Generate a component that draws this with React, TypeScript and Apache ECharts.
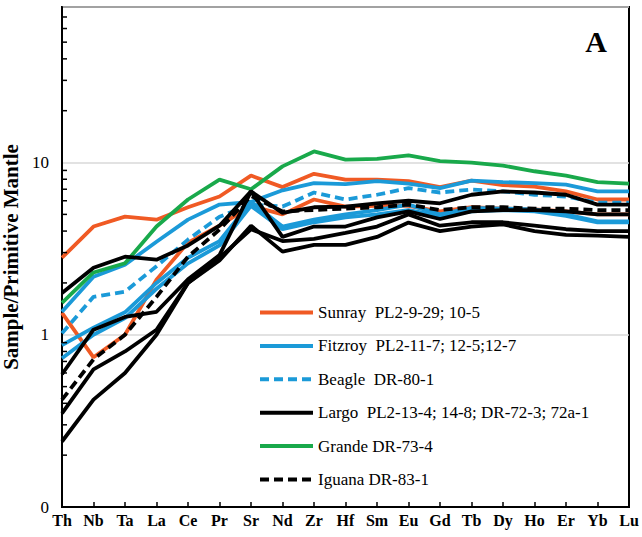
import { useEffect, useRef } from "react";
import * as echarts from "echarts";

// Trace elements, incompatible to compatible (primitive-mantle normalised)
const elements = ["Th", "Nb", "Ta", "La", "Ce", "Pr", "Sr", "Nd", "Zr", "Hf", "Sm", "Eu", "Gd", "Tb", "Dy", "Ho", "Er", "Yb", "Lu"];

// Sample groups (legend entries)
const SUNRAY = "Sunray  PL2-9-29; 10-5";
const FITZROY = "Fitzroy  PL2-11-7; 12-5;12-7";
const BEAGLE = "Beagle  DR-80-1";
const LARGO = "Largo  PL2-13-4; 14-8; DR-72-3; 72a-1";
const GRANDE = "Grande DR-73-4";
const IGUANA = "Iguana DR-83-1";

// Normalised concentrations per sample
const sunray1 = [2.8, 4.25, 4.85, 4.66, 5.5, 6.35, 8.4, 7.2, 8.6, 7.96, 7.96, 7.8, 7.2, 7.85, 7.4, 7.25, 6.8, 6.1, 6.1];
const sunray2 = [1.34, 0.74, 1.0, 2.09, 3.43, 4.3, 5.6, 5.0, 6.1, 5.55, 5.6, 5.6, 5.2, 5.5, 5.4, 5.35, 5.2, 5.0, 5.0];
const fitzroy1 = [1.36, 2.17, 2.55, 3.47, 4.66, 5.7, 5.9, 6.9, 7.6, 7.5, 7.8, 7.55, 7.1, 7.85, 7.7, 7.6, 7.45, 6.8, 6.8];
const fitzroy2 = [0.87, 1.1, 1.35, 2.0, 2.8, 3.5, 5.9, 4.25, 4.66, 5.0, 5.3, 5.7, 5.0, 5.45, 5.4, 5.35, 5.0, 4.55, 4.55];
const fitzroy3 = [0.73, 1.0, 1.25, 1.85, 2.6, 3.3, 5.6, 4.1, 4.5, 4.8, 5.0, 5.3, 4.9, 5.2, 5.3, 5.2, 4.9, 4.5, 4.5];
const beagle = [1.02, 1.66, 1.78, 2.5, 3.57, 4.85, 5.7, 5.55, 6.7, 6.1, 6.5, 7.1, 6.7, 6.97, 6.8, 6.5, 6.35, 5.85, 5.85];
const grande = [1.53, 2.3, 2.6, 4.25, 6.1, 7.96, 7.0, 9.5, 11.6, 10.4, 10.5, 11.0, 10.2, 10.0, 9.6, 8.9, 8.4, 7.7, 7.55];
const largo1 = [1.75, 2.45, 2.84, 2.73, 3.3, 4.3, 6.8, 5.1, 5.5, 5.55, 5.8, 6.0, 5.8, 6.5, 6.8, 6.7, 6.5, 5.7, 5.7];
const largo2 = [0.59, 1.07, 1.27, 1.36, 2.1, 2.9, 6.8, 3.7, 4.25, 4.25, 4.8, 5.2, 4.7, 5.2, 5.3, 5.3, 5.2, 5.0, 5.0];
const largo3 = [0.24, 0.42, 0.6, 1.0, 2.0, 2.7, 4.3, 3.04, 3.33, 3.33, 3.7, 4.48, 4.0, 4.25, 4.37, 4.0, 3.8, 3.76, 3.7];
const largo4 = [0.35, 0.63, 0.8, 1.07, 2.0, 2.8, 4.1, 3.5, 3.6, 3.9, 4.25, 5.0, 4.3, 4.5, 4.5, 4.3, 4.1, 4.0, 4.0];
const iguana = [0.42, 0.72, 1.0, 1.66, 2.84, 4.08, 6.4, 5.2, 5.3, 5.4, 5.5, 5.7, 5.3, 5.5, 5.5, 5.4, 5.4, 5.3, 5.3];

// Log-axis minor tick values
const minorTickValues = [0.2, 0.3, 0.4, 0.5, 0.6, 0.7, 0.8, 0.9, 2, 3, 4, 5, 6, 7, 8, 9, 20, 30, 40, 50, 60, 70];

const SERIF = "Liberation Serif";
const ORANGE = "#F05A24";
const BLUE = "#1B9AD8";
const GREEN = "#19A94B";
const BLACK = "#000000";

function line(name: string, data: number[], color: string, dashed = false, z = 2) {
  return {
    type: "line",
    name,
    data,
    symbol: "none",
    silent: true,
    z,
    lineStyle: { color, width: 3.8, type: dashed ? [9, 5] : "solid" },
    itemStyle: { color },
    emphasis: { disabled: true },
  };
}

export default function App() {
  const ref = useRef<HTMLDivElement>(null);

  useEffect(() => {
    const chart = echarts.init(ref.current!, null, { renderer: "svg" });

    const option = {
      animation: false,
      backgroundColor: "#ffffff",
      textStyle: { fontFamily: SERIF },
      title: {
        text: "A",
        right: 30,
        top: 21,
        textStyle: { fontFamily: SERIF, fontSize: 30, fontWeight: "bold", color: "#000" },
      },
      grid: {
        left: 62,
        right: 13,
        top: 7,
        bottom: 30,
        outerBoundsMode: "none",
        containLabel: false,
        show: true,
        borderColor: "#000",
        borderWidth: 2,
      },
      legend: {
        orient: "vertical",
        left: 253,
        top: 299,
        itemWidth: 53,
        itemHeight: 14,
        itemGap: 16.4,
        selectedMode: false,
        data: [SUNRAY, FITZROY, BEAGLE, LARGO, GRANDE, IGUANA],
        textStyle: { fontFamily: SERIF, fontSize: 17, color: "#000" },
        itemStyle: { color: "transparent", borderColor: "transparent", borderWidth: 0 },
        lineStyle: { width: 4 },
      },
      xAxis: {
        type: "category",
        data: elements,
        boundaryGap: false,
        axisLine: { lineStyle: { color: "#000", width: 2 } },
        axisTick: { inside: true, length: 5, lineStyle: { color: "#000", width: 1.5 } },
        axisLabel: {
          interval: 0,
          margin: 5,
          fontFamily: SERIF,
          fontSize: 16,
          fontWeight: "bold",
          color: "#000",
        },
        splitLine: { show: false },
      },
      yAxis: {
        type: "log",
        logBase: 10,
        min: 0.1,
        max: 80,
        name: "Sample/Primitive Mantle",
        nameLocation: "middle",
        nameGap: 32,
        nameTextStyle: { fontFamily: SERIF, fontSize: 21, fontWeight: "bold", color: "#000" },
        axisLine: { show: true, lineStyle: { color: "#000", width: 2 } },
        axisTick: { inside: true, length: 5, lineStyle: { color: "#000", width: 1.5 } },
        axisLabel: {
          margin: 13,
          fontFamily: SERIF,
          fontSize: 17,
          color: "#000",
          formatter: (v: number) => {
            if (Math.abs(v - 0.1) < 1e-6) return "0";
            if (Math.abs(v - 1) < 1e-6) return "1";
            if (Math.abs(v - 10) < 1e-6) return "10";
            return "";
          },
        },
        splitLine: { show: true, lineStyle: { color: "#d9d9d9", width: 1.5 } },
      },
      series: [
        {
          type: "custom",
          name: "minorTicks",
          silent: true,
          clip: false,
          z: 10,
          data: minorTickValues.map((v) => [0, v]),
          renderItem: (_params: any, api: any) => {
            const p = api.coord([api.value(0), api.value(1)]);
            return {
              type: "line",
              shape: { x1: p[0], y1: p[1], x2: p[0] + 5, y2: p[1] },
              style: { stroke: "#000", lineWidth: 1.5 },
            };
          },
        },
        line(SUNRAY, sunray1, ORANGE),
        line(SUNRAY, sunray2, ORANGE),
        line(FITZROY, fitzroy1, BLUE),
        line(FITZROY, fitzroy2, BLUE),
        line(FITZROY, fitzroy3, BLUE),
        line(BEAGLE, beagle, BLUE, true),
        line(GRANDE, grande, GREEN),
        line(LARGO, largo1, BLACK, false, 3),
        line(LARGO, largo2, BLACK, false, 3),
        line(LARGO, largo3, BLACK, false, 3),
        line(LARGO, largo4, BLACK, false, 3),
        line(IGUANA, iguana, BLACK, true, 3),
      ],
    };

    chart.setOption(option as any);
    return () => chart.dispose();
  }, []);

  return (
    <div
      ref={ref}
      style={{ position: "absolute", left: 0, top: 0, width: 642, height: 537 }}
    />
  );
}
